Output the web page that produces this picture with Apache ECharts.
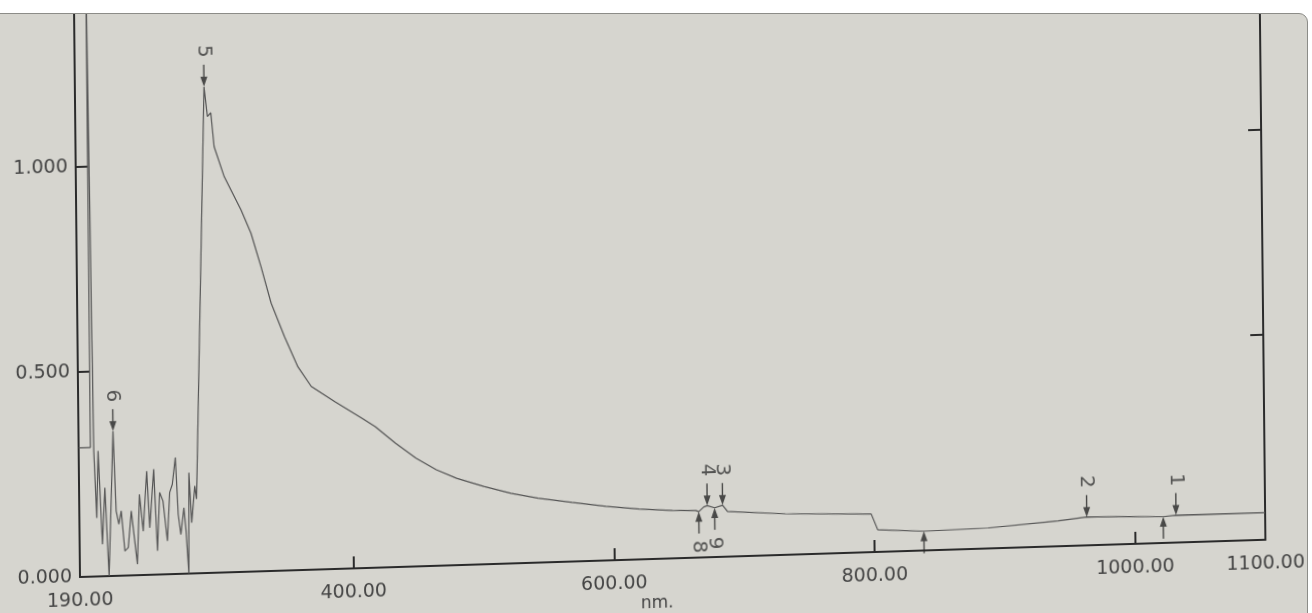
<!DOCTYPE html>
<html>
<head>
<meta charset="utf-8">
<script src="https://cdn.jsdelivr.net/npm/echarts@6/dist/echarts.min.js"></script>
<style>
  html, body { margin: 0; padding: 0; background: #ffffff; width: 1312px; height: 613px; overflow: hidden; }
  #paper { position: absolute; left: -10px; top: 13px; width: 1318px; height: 620px; background: #d6d5cf;
           border: 1px solid #8c8c88; border-radius: 9px; overflow: hidden; box-sizing: border-box; }
  #chart { position: absolute; left: 9px; top: -14px; width: 1312px; height: 650px;
           transform-origin: 80px 577px; transform: rotate(-0.6deg) skewY(-1.2deg); }
</style>
</head>
<body>
<div id="paper"><div id="chart"></div></div>
<script>
// Wavelength (nm) and absorbance
const wavelength = [190, 199.0, 199.3, 201.6, 203.4, 204.9, 207.5, 209.8, 212.4, 216.5, 218.3, 220.3, 222.2, 224.7, 227.3, 229.9, 234.2, 236.3, 238.9, 242.0, 244.0, 247.4, 249.7, 251.8, 254.3, 257.4, 259.5, 261.6, 264.1, 265.9, 267.8, 270.3, 271.8, 273.6, 274.4, 276.2, 278.8, 280.1, 281.3, 289.1, 291.5, 294.1, 296.4, 303.9, 316.5, 324.0, 331.4, 338.9, 348.9, 358.9, 369.0, 387.0, 407.5, 417.8, 433.3, 448.8, 464.3, 479.8, 500.6, 521.4, 542.2, 568.2, 594.2, 619.7, 645.3, 663.1, 665.4, 669.2, 671.9, 677.6, 683.7, 687.5, 731.9, 797.7, 802.6, 838.0, 887.5, 941.2, 963.1, 995.2, 1021.8, 1031.6, 1100];
const absorbance = [0.315, 0.315, 1.5, 0.306, 0.143, 0.306, 0.078, 0.216, 0.0, 0.353, 0.158, 0.126, 0.158, 0.060, 0.068, 0.157, 0.027, 0.197, 0.107, 0.253, 0.115, 0.257, 0.058, 0.200, 0.179, 0.081, 0.199, 0.219, 0.284, 0.145, 0.096, 0.161, 0.104, 0.0, 0.246, 0.124, 0.213, 0.181, 0.185, 1.186, 1.113, 1.122, 1.039, 0.965, 0.883, 0.825, 0.743, 0.653, 0.570, 0.496, 0.447, 0.408, 0.366, 0.344, 0.302, 0.264, 0.234, 0.212, 0.190, 0.171, 0.157, 0.144, 0.132, 0.123, 0.117, 0.115, 0.112, 0.123, 0.126, 0.120, 0.126, 0.110, 0.100, 0.093, 0.054, 0.047, 0.050, 0.062, 0.069, 0.067, 0.064, 0.067, 0.066];

// Peak picks (down arrows) and valley picks (up arrows)
const peakNm = [1031.6, 963.1, 683.7, 671.9, 289.1, 216.5];
const peakAbs = [0.067, 0.069, 0.126, 0.126, 1.186, 0.353];
const peakNo = ['1', '2', '3', '4', '5', '6'];
const valleyNm = [1021.8, 838.0, 677.6, 665.4];
const valleyAbs = [0.064, 0.047, 0.120, 0.112];
const valleyNo = ['', '', '9', '8'];

// Axis ticks
const xTickLabels = [190, 400, 600, 800, 1000, 1100];
const xTicks = [400, 600, 800, 1000];
const yTicks = [0, 0.5, 1.0];

const FONT = '"DejaVu Sans", "Liberation Sans", sans-serif';
const INK = '#2b2b2b';
const TXT = '#444444';

const downArrow = 'path://M4,0 L6,0 L6,13 L10,13 L5,24 L0,13 L4,13 Z';
const upArrow = 'path://M5,0 L10,11 L6,11 L6,24 L4,24 L4,11 L0,11 Z';

const chart = echarts.init(document.getElementById('chart'), null, { renderer: 'canvas' });
chart.setOption({
  animation: false,
  backgroundColor: 'transparent',
  grid: { left: 80, right: 46, top: 3, bottom: 73, containLabel: false, outerBoundsMode: 'none' },
  xAxis: {
    type: 'value', min: 190, max: 1100,
    name: 'nm.', nameLocation: 'middle', nameGap: 36, nameMoveOverlap: false,
    nameTextStyle: { fontFamily: FONT, fontSize: 17, color: TXT, padding: [0, 32, 0, 0] },
    axisLine: { show: true, onZero: false, lineStyle: { color: INK, width: 2 } },
    axisTick: { show: true, inside: true, length: 12, customValues: xTicks, lineStyle: { color: INK, width: 2 } },
    axisLabel: { show: true, margin: 15, customValues: xTickLabels, fontFamily: FONT, fontSize: 19, color: TXT,
                 formatter: v => v.toFixed(2) },
    splitLine: { show: false }
  },
  yAxis: [{
    type: 'value', min: 0, max: 1.4, position: 'left',
    axisLine: { show: true, onZero: false, lineStyle: { color: INK, width: 2 } },
    axisTick: { show: true, inside: true, length: 12, customValues: yTicks, lineStyle: { color: INK, width: 2 } },
    axisLabel: { show: true, margin: 8, customValues: yTicks, fontFamily: FONT, fontSize: 19, color: TXT,
                 formatter: v => v.toFixed(3) },
    splitLine: { show: false }
  }, {
    type: 'value', min: 0, max: 1.4, position: 'right',
    axisLine: { show: true, onZero: false, lineStyle: { color: INK, width: 2 } },
    axisTick: { show: true, inside: true, length: 13, customValues: [0.5, 1.0], lineStyle: { color: INK, width: 2 } },
    axisLabel: { show: false },
    splitLine: { show: false }
  }],
  series: [{
    type: 'line',
    data: wavelength.map((w, i) => [w, absorbance[i]]),
    showSymbol: false,
    clip: true,
    lineStyle: { color: '#555555', width: 1.2 },
    z: 2
  }, {
    type: 'scatter',
    data: peakNm.map((w, i) => ({ value: [w, peakAbs[i]], label: { formatter: peakNo[i] } })),
    symbol: downArrow, symbolSize: [7, 22], symbolKeepAspect: false,
    symbolOffset: [0, '-50%'],
    itemStyle: { color: '#262626' },
    label: { show: true, position: 'top', distance: 7, rotate: -90, align: 'right', verticalAlign: 'middle',
             fontFamily: FONT, fontSize: 20, color: '#333333' },
    z: 3
  }, {
    type: 'scatter',
    data: valleyNm.map((w, i) => ({ value: [w, valleyAbs[i]], label: { formatter: valleyNo[i] } })),
    symbol: upArrow, symbolSize: [7, 22], symbolKeepAspect: false,
    symbolOffset: [0, '50%'],
    itemStyle: { color: '#262626' },
    label: { show: true, position: 'bottom', distance: 7, rotate: -90, align: 'left', verticalAlign: 'middle',
             fontFamily: FONT, fontSize: 20, color: '#333333' },
    z: 3
  }]
});
</script>
</body>
</html>
